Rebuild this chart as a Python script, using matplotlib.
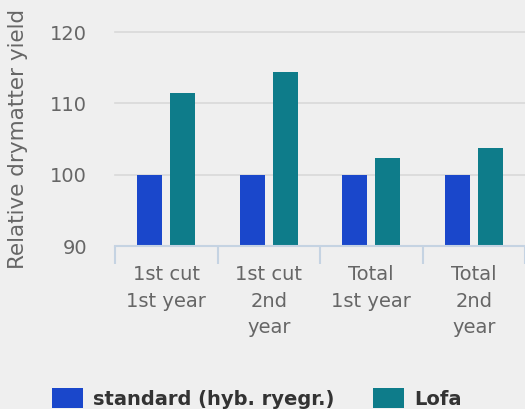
import matplotlib
matplotlib.use("Agg")
import matplotlib.pyplot as plt
import numpy as np

categories = ["1st cut\n1st year", "1st cut\n2nd\nyear", "Total\n1st year", "Total\n2nd\nyear"]
series_names = ["standard (hyb. ryegr.)", "Lofa"]
standard = [100, 100, 100, 100]
lofa = [111.5, 114.4, 102.3, 103.7]
yticks = [90, 100, 110, 120]

BG = "#efefef"
BLUE = "#1a47cb"
TEAL = "#0e7c8a"

plt.rcParams['font.family'] = ['DejaVu Sans']

fig = plt.figure(figsize=(5.25, 4.09), dpi=100, facecolor=BG)
ax = fig.add_axes([115/525, 1-246/409, 1-115/525, (246-32)/409], facecolor=BG)

x = np.arange(len(categories))
w = 0.245
off = 0.16
b1 = ax.bar(x - off, [v - 90 for v in standard], w, bottom=90, color=BLUE, label=series_names[0], zorder=3)
b2 = ax.bar(x + off, [v - 90 for v in lofa], w, bottom=90, color=TEAL, label=series_names[1], zorder=3)

ax.set_xlim(-0.5, len(categories) - 0.5)
ax.set_ylim(90, 120)
ax.set_yticks(yticks)
ax.set_yticklabels([str(t) for t in yticks])
ax.grid(axis='y', color='#d9d9d9', linewidth=1.2, zorder=0)
for gl in ax.get_ygridlines():
    gl.set_clip_on(False)
ax.set_axisbelow(True)

for s in ['top', 'right', 'left']:
    ax.spines[s].set_visible(False)
ax.spines['bottom'].set_color('#c5d3e2')
ax.spines['bottom'].set_linewidth(1.5)
ax.spines['bottom'].set_zorder(4)

ax.set_xticks(x)
ax.set_xticklabels(categories, fontsize=14, color='#666666', linespacing=1.5, va='top')
ax.set_xticks(np.arange(len(categories) + 1) - 0.5, minor=True)
ax.tick_params(axis='x', which='major', length=0, pad=14)
ax.tick_params(axis='x', which='minor', length=13, width=1.5, color='#c5d3e2')
ax.tick_params(axis='y', length=0, pad=20, labelsize=14, labelcolor='#666666')

ax.set_ylabel("Relative drymatter yield", fontsize=15.5, color='#666666')
ax.yaxis.set_label_coords(-0.212, 0.5)

leg = ax.legend(handles=[b1, b2], loc='lower left', bbox_to_anchor=(52/525, 0/409),
                bbox_transform=fig.transFigure, ncol=2, frameon=False,
                borderaxespad=0, borderpad=0, handlelength=1.6, handleheight=1.2,
                handletextpad=0.5, columnspacing=2.0,
                prop={'size': 14, 'weight': 'bold'})
for t in leg.get_texts():
    t.set_color('#333333')

fig.savefig("out.png", dpi=100, facecolor=BG)
